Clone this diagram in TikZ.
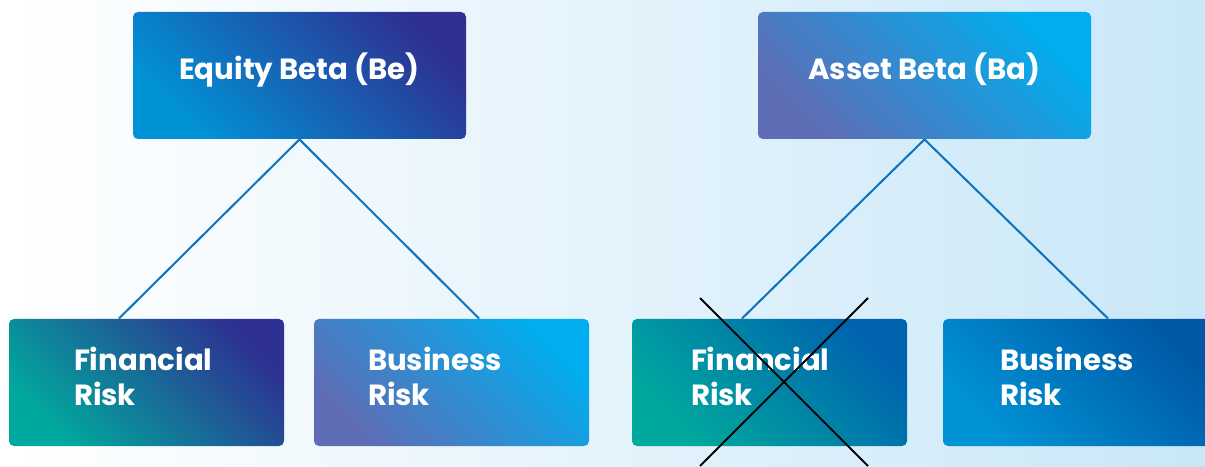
\documentclass[tikz,border=0pt]{standalone}
\usepackage{fontspec}
\setmainfont{Poppins}
\usepackage{xcolor}
\usepackage{tikz}
\usetikzlibrary{calc}

\definecolor{bgright}{HTML}{C9E7F8}
\definecolor{navy}{HTML}{2E3192}
\definecolor{deepblue}{HTML}{0057A5}
\definecolor{skyblue}{HTML}{0093D6}
\definecolor{cyanblue}{HTML}{00AEEF}
\definecolor{lilac}{HTML}{5E6DB5}
\definecolor{teal}{HTML}{00A99D}
\definecolor{linkblue}{HTML}{0D72BD}

\begin{document}
\begin{tikzpicture}[x=0.5pt, y=0.5pt,
    every node/.style={text=white, font=\bfseries},
    betabox/.style={rounded corners=2.5pt, minimum width=166.5pt, minimum height=63.5pt, text height=10pt, text depth=5.5pt, font=\bfseries\fontsize{14.6}{17}\selectfont},
    riskbox/.style={rounded corners=2.5pt, text width=137.5pt-2*#1, inner xsep=#1, minimum height=63.5pt, text depth=23.5pt, align=left, font=\bfseries\fontsize{14.6}{17.5}\selectfont},
    riskbox/.default=29.5pt,
    link/.style={linkblue, line width=1pt}]
    % Background
    \shade[left color=white, right color=bgright] (0,0) rectangle (1205,466);
    \clip (0,0) rectangle (1205,466);

    % Top row
    \node[betabox, left color=skyblue, middle color=deepblue, right color=navy, shading angle=135] (eqb) at (299.5, 390.5) {Equity Beta (Be)};
    \node[betabox, left color=lilac, middle color=skyblue, right color=cyanblue, shading angle=135] (asb) at (924.5, 390.5) {Asset Beta (Ba)};

    % Bottom row
    \node[riskbox=32.5pt, left color=teal, middle color=deepblue, right color=navy, shading angle=135] (fin1) at (146.5, 83.5) {Financial\\Risk};
    \node[riskbox=27pt, left color=lilac, middle color=skyblue, right color=cyanblue, shading angle=135] (bus1) at (451.5, 83.5) {Business\\Risk};
    \node[riskbox, left color=teal, right color=deepblue!80!skyblue, shading angle=135] (fin2) at (769.5, 83.5) {Financial\\Risk};
    \node[riskbox=28.5pt, left color=skyblue, right color=deepblue, shading angle=135] (bus2) at (1080.5, 83.5) {Business\\Risk};

    % Links
    \draw[link] (eqb.south) -- ($(fin1.north west)!0.4!(fin1.north east)$);
    \draw[link] (eqb.south) -- ($(bus1.north west)!0.6!(bus1.north east)$);
    \draw[link] (asb.south) -- ($(fin2.north west)!0.4!(fin2.north east)$);
    \draw[link] (asb.south) -- ($(bus2.north west)!0.6!(bus2.north east)$);

    % Cross over financial risk
    \draw[black, line width=1pt] (700,168) -- (868,0);
    \draw[black, line width=1pt] (868,168) -- (700,0);
\end{tikzpicture}
\end{document}
